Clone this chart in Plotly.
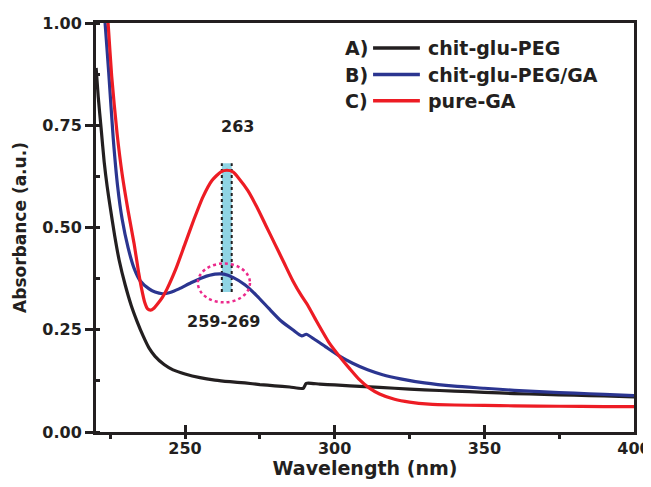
import plotly.graph_objects as go

# spectra
wl_a = [220.3, 221, 222, 223, 224, 225, 226.5, 228, 230, 232, 234, 236, 238, 240, 243, 246,
        250, 255, 260, 265, 270, 275, 280, 285, 289.5, 290.5, 295, 300, 310, 320, 330, 340,
        350, 360, 370, 380, 390, 400]
abs_a = [0.89, 0.82, 0.74, 0.66, 0.60, 0.55, 0.48, 0.42, 0.36, 0.31, 0.27, 0.235, 0.205, 0.185,
         0.165, 0.152, 0.142, 0.133, 0.127, 0.123, 0.12, 0.116, 0.113, 0.11, 0.107, 0.119, 0.117,
         0.115, 0.111, 0.107, 0.103, 0.1, 0.097, 0.094, 0.092, 0.09, 0.088, 0.086]

wl_b = [222, 223.3, 224.5, 226, 227.5, 229, 231, 233, 235, 238, 240, 242.5, 245, 248, 252, 256,
        260, 263, 266, 270, 274, 278, 282, 286, 289, 290.5, 293, 297, 301.5, 306, 311, 316, 322,
        330, 340, 350, 360, 370, 380, 390, 400]
abs_b = [1.12, 1.0, 0.88, 0.72, 0.6, 0.52, 0.45, 0.40, 0.37, 0.35, 0.342, 0.338, 0.341, 0.35,
         0.365, 0.378, 0.386, 0.386, 0.378, 0.36, 0.333, 0.302, 0.272, 0.25, 0.235, 0.239, 0.228,
         0.208, 0.186, 0.168, 0.152, 0.14, 0.13, 0.12, 0.112, 0.107, 0.102, 0.098, 0.095, 0.092,
         0.089]

wl_c = [223, 224.3, 225.5, 227.3, 229, 231, 233, 234.5, 235.5, 236.5, 237.5, 238.5, 239.5, 241,
        242.5, 244, 247, 250, 253, 256, 259, 262, 264, 266, 268, 271, 274, 277, 280, 283, 286,
        289, 291, 294, 298, 301.5, 305, 308, 311.5, 315, 320, 325, 331.5, 340, 350, 360, 375,
        390, 400]
abs_c = [1.12, 1.0, 0.87, 0.73, 0.63, 0.54, 0.46, 0.39, 0.35, 0.318, 0.301, 0.298, 0.302, 0.315,
         0.33, 0.35, 0.4, 0.46, 0.52, 0.575, 0.615, 0.636, 0.64, 0.636, 0.62, 0.59, 0.55, 0.505,
         0.46, 0.415, 0.37, 0.332, 0.31, 0.27, 0.22, 0.186, 0.155, 0.13, 0.108, 0.093, 0.08,
         0.073, 0.068, 0.066, 0.065, 0.064, 0.063, 0.062, 0.062]

labels = ["chit-glu-PEG", "chit-glu-PEG/GA", "pure-GA"]
letters = ["A)", "B)", "C)"]
colors = ["#231f20", "#2b3590", "#ed1c24"]

peak_label = "263"
band_label = "259-269"
band_x = [262.3, 265.6]      # shaded peak marker
band_y = [0.342, 0.657]
circle_x = [254.3, 271.7]
circle_y = [0.317, 0.412]

ink = "#231f20"
font = "DejaVu Sans"

fig = go.Figure()
for x, y, c, name in zip([wl_a, wl_b, wl_c], [abs_a, abs_b, abs_c], colors, labels):
    fig.add_trace(go.Scatter(x=x, y=y, mode="lines", name=name,
                             line=dict(color=c, width=3.2, shape="spline", smoothing=0.6),
                             showlegend=False))

# cyan bar with dotted edges at the GA peak
fig.add_shape(type="rect", x0=band_x[0], x1=band_x[1], y0=band_y[0], y1=band_y[1],
              fillcolor="#8fd4e4", line_width=0, layer="below")
for bx in band_x:
    fig.add_shape(type="line", x0=bx, x1=bx, y0=band_y[0], y1=band_y[1],
                  line=dict(color=ink, width=2, dash="dot"), layer="below")
fig.add_shape(type="circle", x0=circle_x[0], x1=circle_x[1], y0=circle_y[0], y1=circle_y[1],
              line=dict(color="#ec2a8c", width=2.5, dash="dot"))

fig.add_annotation(x=267.4, y=0.746, text=peak_label, showarrow=False,
                   font=dict(family=font, size=16, color=ink, weight="bold"))
fig.add_annotation(x=262.9, y=0.269, text=band_label, showarrow=False,
                   font=dict(family=font, size=16, color=ink, weight="bold"))

# hand made legend
rows = [0.939, 0.874, 0.810]
for ry, let, lab, c in zip(rows, letters, labels, colors):
    fig.add_annotation(x=0.46, y=ry, xref="paper", yref="paper", text=let, showarrow=False,
                       xanchor="left", yanchor="middle",
                       font=dict(family=font, size=19, color=ink, weight="bold"))
    fig.add_shape(type="line", x0=0.515, x1=0.602, y0=ry, y1=ry, xref="paper", yref="paper",
                  line=dict(color=c, width=3.5))
    fig.add_annotation(x=0.614, y=ry, xref="paper", yref="paper", text=lab, showarrow=False,
                       xanchor="left", yanchor="middle",
                       font=dict(family=font, size=19, color=ink, weight="bold"))

fig.update_xaxes(range=[220.26, 400], showline=True, linewidth=3, linecolor=ink, mirror=True,
                 ticks="inside", ticklen=7, tickwidth=2.5, tickcolor=ink, tick0=250, dtick=50,
                 minor=dict(ticks="outside", ticklen=4, tickwidth=2.5, tickcolor=ink, dtick=25,
                            tick0=0),
                 showgrid=False, zeroline=False, automargin=False,
                 tickfont=dict(family=font, size=16, color=ink, weight="bold"),
                 title=dict(text="Wavelength (nm)", standoff=8,
                            font=dict(family=font, size=19, color=ink, weight="bold")))
fig.update_yaxes(range=[0, 1.0], showline=True, linewidth=3, linecolor=ink, mirror=True,
                 ticks="outside", ticklen=8, tickwidth=2.5, tickcolor=ink, tick0=0, dtick=0.25,
                 tickformat=".2f",
                 minor=dict(ticks="inside", ticklen=4, tickwidth=2.5, tickcolor=ink, dtick=0.125,
                            tick0=0),
                 showgrid=False, zeroline=False, automargin=False,
                 tickfont=dict(family=font, size=16, color=ink, weight="bold"),
                 title=dict(text="Absorbance (a.u.)", standoff=12,
                            font=dict(family=font, size=17, color=ink, weight="bold")))

# page body keeps an 8px margin, so the figure is shrunk to fit without scrollbars
fig.update_layout(width=643, height=471, margin=dict(l=88, r=17, t=15, b=47),
                  plot_bgcolor="white", paper_bgcolor="white")

fig.write_html("out.html")
